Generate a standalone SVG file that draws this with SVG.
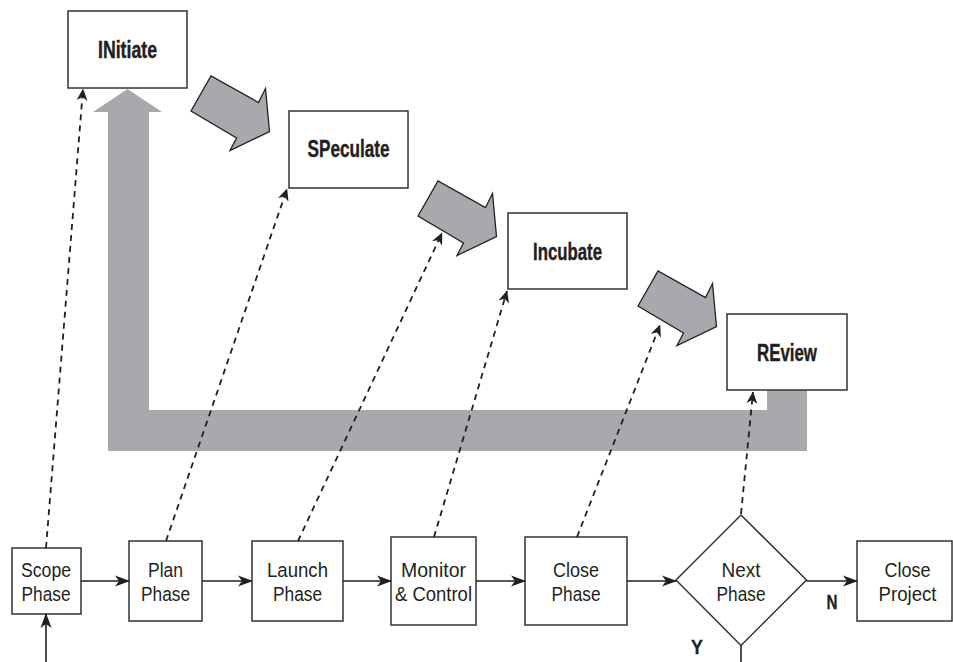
<svg xmlns="http://www.w3.org/2000/svg" xmlns:xlink="http://www.w3.org/1999/xlink" width="953" height="662" viewBox="0 0 953 662">
<style>
.box{fill:#fff;stroke:#333;stroke-width:1.5}
.t{font-family:"Liberation Sans",Arial,sans-serif;font-size:20.5px;fill:#231f20;text-anchor:middle}
.b{font-family:"Liberation Sans",Arial,sans-serif;font-size:23px;font-weight:bold;fill:#231f20;stroke:#231f20;stroke-width:0.4;text-anchor:middle}
.lbl{font-family:"Liberation Sans",Arial,sans-serif;font-size:20px;font-weight:bold;fill:#231f20;stroke:#231f20;stroke-width:0.3;text-anchor:middle}
.solid{stroke:#231f20;stroke-width:1.6;fill:none}
.dash{stroke:#231f20;stroke-width:1.8;fill:none;stroke-dasharray:6 5}
.gray{fill:#a7a9ac}
.blk{fill:#a7a9ac;stroke:#231f20;stroke-width:1.3;stroke-linejoin:miter}
</style>
<defs>
<marker id="ah" markerUnits="userSpaceOnUse" markerWidth="15" markerHeight="12" viewBox="0 0 15 12" refX="14" refY="6" orient="auto">
<path d="M0,0.5 L15,6 L0,11.5 L4,6 Z" fill="#231f20"/>
</marker>
<marker id="ahd" markerUnits="userSpaceOnUse" markerWidth="12" markerHeight="11" viewBox="0 0 12 11" refX="11.5" refY="5.5" orient="auto">
<path d="M0,0 L12,5.5 L0,11 L3.5,5.5 Z" fill="#231f20"/>
</marker>
<path id="blockArrow" d="M191,111 L211,76 L258.5,102.5 L265.5,88.5 L269.5,131.5 L230,150.5 L236.5,138 Z"/>
</defs>

<g id="cycle-arrow">
<path class="gray" d="M108,451 L108,112 L93,112 L127.5,89 L162,112 L149,112 L149,410 L767,410 L767,390 L807,390 L807,451 Z"/>
</g>

<g id="block-arrows">
<use xlink:href="#blockArrow" class="blk"/>
<use xlink:href="#blockArrow" class="blk" transform="translate(227,105)"/>
<use xlink:href="#blockArrow" class="blk" transform="translate(447,195)"/>
</g>

<g id="initiate"><rect class="box" x="68" y="11" width="119" height="77"/><text class="b" x="127.5" y="57.5" textLength="59" lengthAdjust="spacingAndGlyphs">INitiate</text></g>
<g id="speculate"><rect class="box" x="289" y="111" width="119" height="77"/><text class="b" x="348.5" y="157" textLength="82" lengthAdjust="spacingAndGlyphs">SPeculate</text></g>
<g id="incubate"><rect class="box" x="508" y="213" width="119" height="76"/><text class="b" x="567.5" y="259.5" textLength="69" lengthAdjust="spacingAndGlyphs">Incubate</text></g>
<g id="review"><rect class="box" x="727" y="314" width="120" height="76"/><text class="b" x="787" y="360.5" textLength="60" lengthAdjust="spacingAndGlyphs">REview</text></g>

<g id="scope-phase"><rect class="box" x="12" y="548" width="69" height="66"/><text class="t" x="46" y="577" textLength="50" lengthAdjust="spacingAndGlyphs">Scope</text><text class="t" x="46" y="601" textLength="49" lengthAdjust="spacingAndGlyphs">Phase</text></g>
<g id="plan-phase"><rect class="box" x="129" y="541" width="73" height="80"/><text class="t" x="165.5" y="577" textLength="35" lengthAdjust="spacingAndGlyphs">Plan</text><text class="t" x="165.5" y="601" textLength="49" lengthAdjust="spacingAndGlyphs">Phase</text></g>
<g id="launch-phase"><rect class="box" x="252" y="541" width="91" height="80"/><text class="t" x="297.5" y="577" textLength="61" lengthAdjust="spacingAndGlyphs">Launch</text><text class="t" x="297.5" y="601" textLength="49" lengthAdjust="spacingAndGlyphs">Phase</text></g>
<g id="monitor-control"><rect class="box" x="391" y="537" width="85" height="88"/><text class="t" x="433.5" y="577" textLength="65" lengthAdjust="spacingAndGlyphs">Monitor</text><text class="t" x="433.5" y="601" textLength="77" lengthAdjust="spacingAndGlyphs">&amp; Control</text></g>
<g id="close-phase"><rect class="box" x="525" y="537" width="102" height="88"/><text class="t" x="576" y="577" textLength="46" lengthAdjust="spacingAndGlyphs">Close</text><text class="t" x="576" y="601" textLength="49" lengthAdjust="spacingAndGlyphs">Phase</text></g>
<g id="next-phase"><path class="box" d="M676,580 L741,515 L806.5,580 L741,645.5 Z"/><text class="t" x="741" y="577" textLength="39" lengthAdjust="spacingAndGlyphs">Next</text><text class="t" x="741" y="601" textLength="49" lengthAdjust="spacingAndGlyphs">Phase</text></g>
<g id="close-project"><rect class="box" x="857" y="541" width="95" height="80"/><text class="t" x="907.5" y="577" textLength="46" lengthAdjust="spacingAndGlyphs">Close</text><text class="t" x="907.5" y="601" textLength="58" lengthAdjust="spacingAndGlyphs">Project</text></g>

<g id="connectors">
<line class="solid" x1="81" y1="581" x2="129" y2="581" marker-end="url(#ah)"/>
<line class="solid" x1="202" y1="581" x2="252" y2="581" marker-end="url(#ah)"/>
<line class="solid" x1="343" y1="581" x2="391" y2="581" marker-end="url(#ah)"/>
<line class="solid" x1="476" y1="581" x2="525" y2="581" marker-end="url(#ah)"/>
<line class="solid" x1="627" y1="581" x2="676" y2="581" marker-end="url(#ah)"/>
<line class="solid" x1="806.5" y1="581" x2="857" y2="581" marker-end="url(#ah)"/>
<line class="solid" x1="46" y1="662" x2="46" y2="614" marker-end="url(#ah)"/>
<line class="solid" x1="741" y1="645.5" x2="741" y2="662"/>
<line class="dash" x1="46" y1="548" x2="83" y2="89" marker-end="url(#ahd)"/>
<line class="dash" x1="166" y1="541" x2="287" y2="189" marker-end="url(#ahd)"/>
<line class="dash" x1="298" y1="541" x2="442" y2="233" marker-end="url(#ahd)"/>
<line class="dash" x1="434" y1="537" x2="507" y2="291" marker-end="url(#ahd)"/>
<line class="dash" x1="577" y1="537" x2="660" y2="325" marker-end="url(#ahd)"/>
<line class="dash" x1="741" y1="514" x2="753" y2="392" marker-end="url(#ahd)"/>
<text class="lbl" x="832" y="609" textLength="11" lengthAdjust="spacingAndGlyphs">N</text>
<text class="lbl" x="697" y="654" textLength="12" lengthAdjust="spacingAndGlyphs">Y</text>
</g>
</svg>
